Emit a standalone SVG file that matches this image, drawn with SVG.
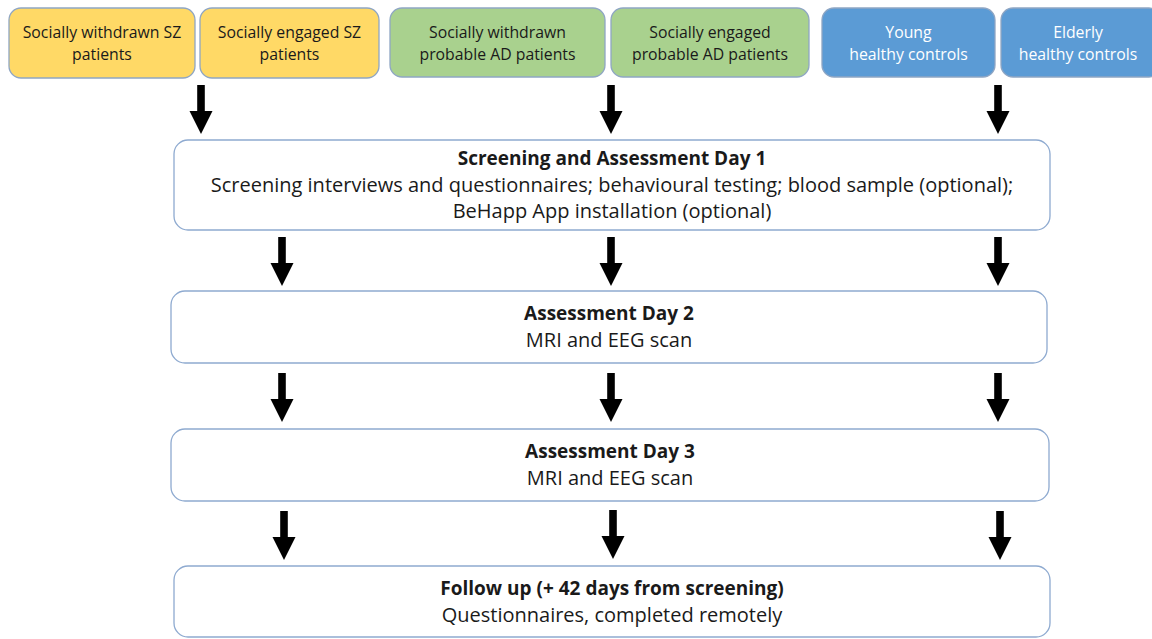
<svg xmlns="http://www.w3.org/2000/svg" width="1152" height="639" viewBox="0 0 1152 639">
<style>
  text{font-family:"Open Sans","Liberation Sans",sans-serif;text-anchor:middle;fill:#1a1a1a}
  .top text{font-size:15.8px}
  .yel{fill:#FFD966;stroke:#8FA6C4;stroke-width:1.3}
  .grn{fill:#A9D18E;stroke:#8FA6C4;stroke-width:1.3}
  .blu{fill:#5B9BD5;stroke:#8FA6C4;stroke-width:1.3}
  .top text.blu-t{fill:#ffffff}
  .step{fill:#ffffff;stroke:#8EAAD0;stroke-width:1.3}
  .steps text{font-size:20px;fill:#1a1a1a;stroke:none}
  .steps text.b{font-weight:bold;font-size:19px}
  .arrow{fill:#000}
</style>
<defs>
  <path id="arr" class="arrow" d="M-3.8,0 H3.8 V26 H11.5 L0,49 L-11.5,26 H-3.8 Z"/>
</defs>
<rect width="1152" height="639" fill="#ffffff"/>
<g class="top">
  <g id="n-sz-withdrawn"><rect class="yel" x="9" y="8" width="186" height="70" rx="12"/><text x="102" y="38">Socially withdrawn SZ</text><text x="102" y="60">patients</text></g>
  <g id="n-sz-engaged"><rect class="yel" x="200" y="8" width="179" height="70" rx="12"/><text x="289.5" y="38">Socially engaged SZ</text><text x="289.5" y="60">patients</text></g>
  <g id="n-ad-withdrawn"><rect class="grn" x="390" y="8" width="215" height="69" rx="12"/><text x="497.5" y="38">Socially withdrawn</text><text x="497.5" y="60">probable AD patients</text></g>
  <g id="n-ad-engaged"><rect class="grn" x="611" y="8" width="198" height="69" rx="12"/><text x="710" y="38">Socially engaged</text><text x="710" y="60">probable AD patients</text></g>
  <g id="n-young"><rect class="blu" x="822" y="8" width="173" height="69" rx="12"/><text class="blu-t" x="908.5" y="38">Young</text><text class="blu-t" x="908.5" y="60">healthy controls</text></g>
  <g id="n-elderly"><rect class="blu" x="1001" y="8" width="160" height="69" rx="12"/><text class="blu-t" x="1078" y="38">Elderly</text><text class="blu-t" x="1078" y="60">healthy controls</text></g>
</g>
<g id="connectors">
  <use href="#arr" x="201" y="85"/>
  <use href="#arr" x="611" y="85"/>
  <use href="#arr" x="998" y="85"/>
  <use href="#arr" x="282" y="237"/>
  <use href="#arr" x="611" y="237"/>
  <use href="#arr" x="998" y="237"/>
  <use href="#arr" x="282" y="373"/>
  <use href="#arr" x="611" y="373"/>
  <use href="#arr" x="998" y="373"/>
  <use href="#arr" x="284" y="511"/>
  <use href="#arr" x="613" y="510"/>
  <use href="#arr" x="1000" y="511"/>
</g>
<g class="steps">
  <g id="n-day1"><rect class="step" x="174" y="140" width="876" height="90" rx="14"/>
    <text class="b" x="612" y="165">Screening and Assessment Day 1</text>
    <text x="612" y="192">Screening interviews and questionnaires; behavioural testing; blood sample (optional);</text>
    <text x="612" y="218">BeHapp App installation (optional)</text></g>
  <g id="n-day2"><rect class="step" x="171" y="291" width="876" height="72" rx="14"/>
    <text class="b" x="609" y="320">Assessment Day 2</text>
    <text x="609" y="347">MRI and EEG scan</text></g>
  <g id="n-day3"><rect class="step" x="171" y="429" width="878" height="72" rx="14"/>
    <text class="b" x="610" y="458">Assessment Day 3</text>
    <text x="610" y="485">MRI and EEG scan</text></g>
  <g id="n-followup"><rect class="step" x="174" y="566" width="876" height="71" rx="14"/>
    <text class="b" x="612" y="595">Follow up (+ 42 days from screening)</text>
    <text x="612" y="622">Questionnaires, completed remotely</text></g>
</g>
</svg>
